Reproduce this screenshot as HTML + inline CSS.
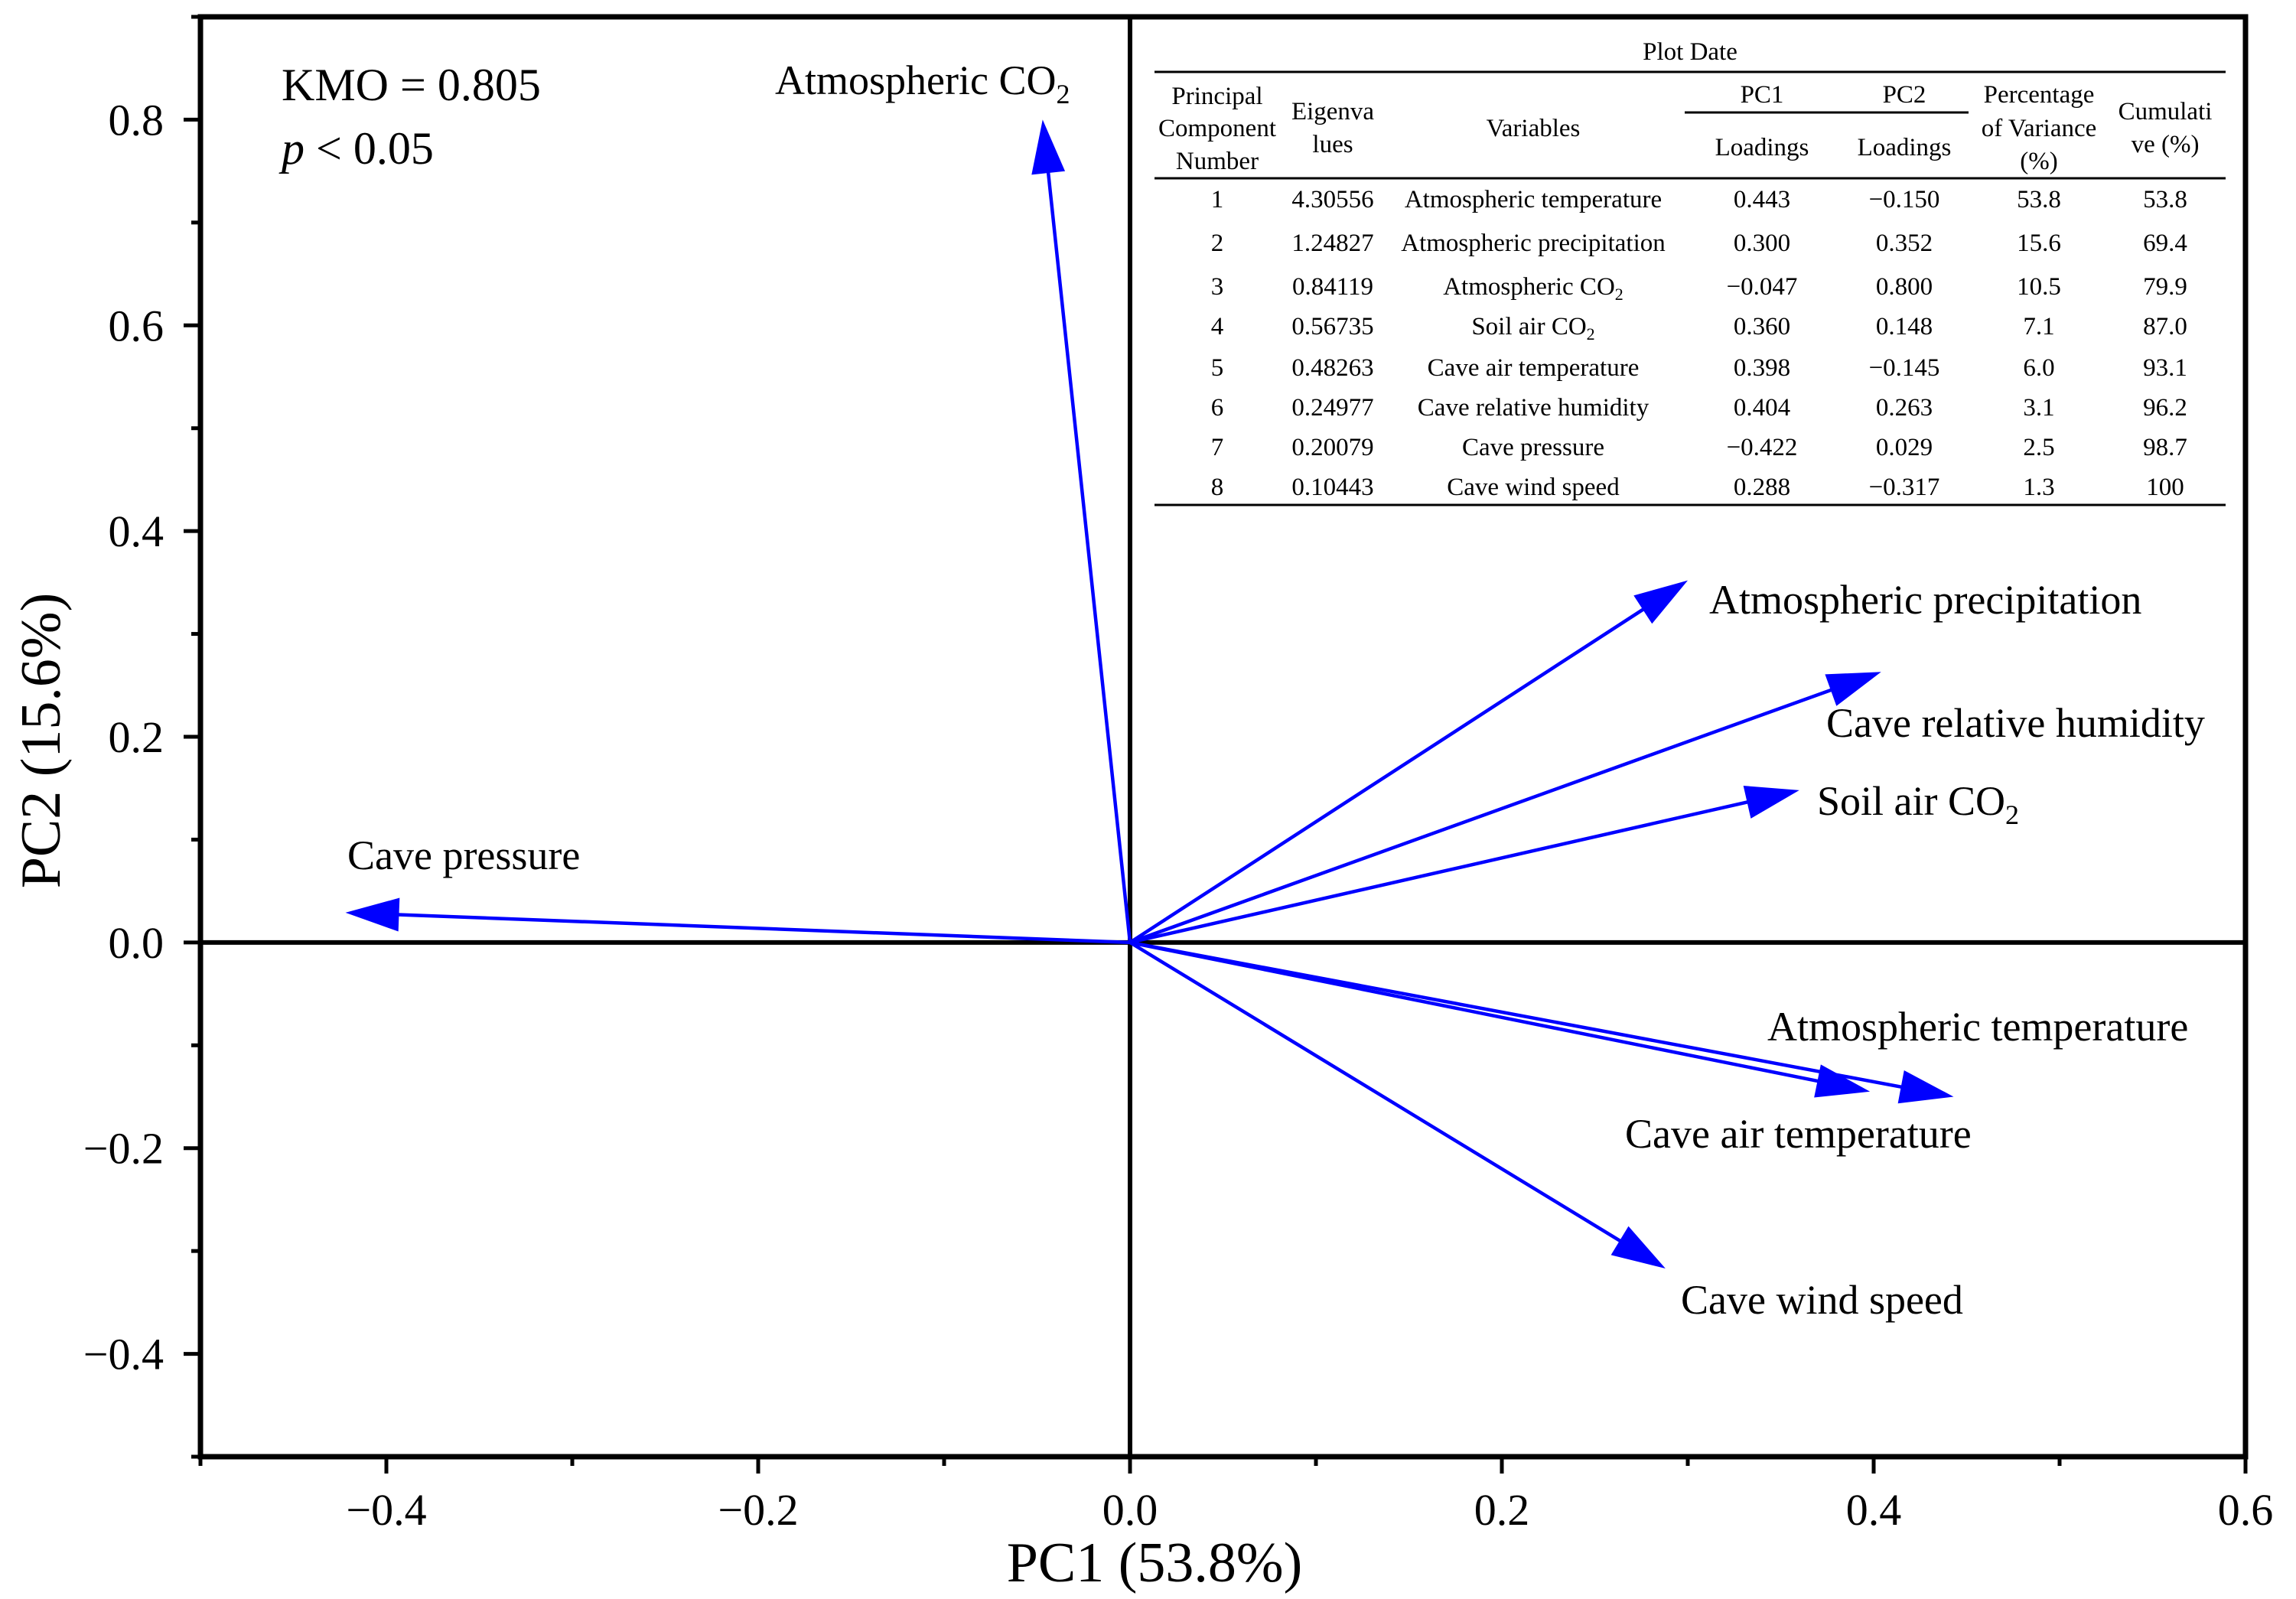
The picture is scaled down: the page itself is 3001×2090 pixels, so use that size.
<!DOCTYPE html>
<html><head><meta charset="utf-8"><style>
html,body{margin:0;padding:0;background:#fff;}
svg{display:block;font-family:"Liberation Serif","Times New Roman",Times,serif;}
</style></head><body>
<svg id="chart" width="3001" height="2090" viewBox="0 0 3001 2090" xmlns="http://www.w3.org/2000/svg" font-family="Liberation Serif, Times New Roman, serif">
<g id="table" font-size="33" text-anchor="middle" fill="#000"></g>
<g id="axes"></g>
<g id="arrows"></g>
<text x="368" y="131" font-size="60">KMO = 0.805</text>
<text x="368" y="214" font-size="60"><tspan font-style="italic">p</tspan> &lt; 0.05</text>
<text x="1509" y="2067" font-size="74" text-anchor="middle">PC1 (53.8%)</text>
<text x="0" y="0" font-size="74" text-anchor="middle" transform="translate(78,968) rotate(-90)">PC2 (15.6%)</text>
</svg>
<script>
const variables = ["Atmospheric temperature","Atmospheric precipitation","Atmospheric CO2","Soil air CO2","Cave air temperature","Cave relative humidity","Cave pressure","Cave wind speed"];
const pc1Loadings = [0.443,0.300,-0.047,0.360,0.398,0.404,-0.422,0.288];
const pc2Loadings = [-0.150,0.352,0.800,0.148,-0.145,0.263,0.029,-0.317];
const eigenvalues = ["4.30556","1.24827","0.84119","0.56735","0.48263","0.24977","0.20079","0.10443"];
const pctVariance = ["53.8","15.6","10.5","7.1","6.0","3.1","2.5","1.3"];
const cumulative = ["53.8","69.4","79.9","87.0","93.1","96.2","98.7","100"];
const xTicks = [-0.4,-0.2,0.0,0.2,0.4,0.6];
const yTicks = [-0.4,-0.2,0.0,0.2,0.4,0.6,0.8];
const xDomain = [-0.5,0.6], yDomain = [-0.5,0.9];

const NS="http://www.w3.org/2000/svg";
const L=262,R=2935,T=22,B=1904;
const sx=v=>L+(v-xDomain[0])/(xDomain[1]-xDomain[0])*(R-L);
const sy=v=>B-(v-yDomain[0])/(yDomain[1]-yDomain[0])*(B-T);
function mk(tag,attrs,parent,text){const e=document.createElementNS(NS,tag);for(const k in attrs)e.setAttribute(k,attrs[k]);if(text!==undefined)e.textContent=text;parent.appendChild(e);return e;}
const fmt=v=>(v<0?"\u2212":"")+Math.abs(v).toFixed(1);

const axes=document.getElementById('axes');
let e=mk('line',{x1:sx(0),x2:sx(0),y1:T,y2:B,stroke:'#000','stroke-width':6},axes);

e=mk('line',{x1:L,x2:R,y1:sy(0),y2:sy(0),stroke:'#000','stroke-width':6},axes);

e=mk('rect',{x:L,y:T,width:R-L,height:B-T,fill:'none',stroke:'#000','stroke-width':7},axes);

for(let i=0;i<=11;i++){const v=xDomain[0]+i*0.1;const major=i%2===1;
 e=mk('line',{x1:sx(v),x2:sx(v),y1:B,y2:B+(major?22:12),stroke:'#000','stroke-width':5},axes);
 }
xTicks.forEach(v=>{e=mk('text',{x:sx(v),y:1993,'font-size':58,'text-anchor':'middle'},axes,fmt(v));
 });
for(let i=0;i<=14;i++){const v=yDomain[0]+i*0.1;const major=i%2===1;
 e=mk('line',{x1:L-(major?22:12),x2:L,y1:sy(v),y2:sy(v),stroke:'#000','stroke-width':5},axes);
 }
yTicks.forEach(v=>{e=mk('text',{x:214,y:sy(v)+20,'font-size':58,'text-anchor':'end'},axes,fmt(v));
 });

const labelPos=[[2310,1342],[2234,784],[1013,105],[2375,1047],[2124,1482],[2387,945],[454,1118],[2197,1699]];
const arrows=document.getElementById('arrows');
variables.forEach((name,i)=>{
 const x0=sx(0),y0=sy(0),x1=sx(pc1Loadings[i]),y1=sy(pc2Loadings[i]);
 const dx=x1-x0,dy=y1-y0,len=Math.hypot(dx,dy),ux=dx/len,uy=dy/len;
 const hl=70,hw=22;const bx=x1-ux*hl,by=y1-uy*hl;
 e=mk('line',{x1:x0,y1:y0,x2:bx+ux*5,y2:by+uy*5,stroke:'#0000ff','stroke-width':4.5},arrows);
 
 e=mk('polygon',{points:`${x1},${y1} ${bx-uy*hw},${by+ux*hw} ${bx+uy*hw},${by-ux*hw}`,fill:'#0000ff'},arrows);
 
 const p=labelPos[i];
 const t=mk('text',{x:p[0],y:p[1]+18,'font-size':54},arrows);
 
 if(name.endsWith('CO2')){t.appendChild(document.createTextNode(name.slice(0,-1)));mk('tspan',{'font-size':36,dy:12},t,'2');}
 else t.textContent=name;
});

const tb=document.getElementById('table');
const TL=1509,TR=2909;
const cols=[1591,1742,2004,2303,2489,2665,2830];
e=mk('text',{x:2209,y:78},tb,'Plot Date');
[[94,TL,TR],[233,TL,TR],[660,TL,TR],[147,2202,2573]].forEach(r=>{e=mk('line',{x1:r[1],x2:r[2],y1:r[0],y2:r[0],stroke:'#000','stroke-width':3},tb);
 });
const hdr=[[0,125,'Principal'],[0,167,'Component'],[0,210,'Number'],[1,145,'Eigenva'],[1,188,'lues'],[2,167,'Variables'],[3,123,'PC1'],[4,123,'PC2'],[3,192,'Loadings'],[4,192,'Loadings'],[5,123,'Percentage'],[5,167,'of Variance'],[5,210,'(%)'],[6,145,'Cumulati'],[6,188,'ve (%)']];
hdr.forEach(h=>{e=mk('text',{x:cols[h[0]],y:h[1]+11},tb,h[2]);});
const rowY=[260,317,374,426,480,532,584,636];
variables.forEach((name,i)=>{
 const y=rowY[i]+11;
 const cells=[String(i+1),eigenvalues[i],name,(pc1Loadings[i]<0?'\u2212':'')+Math.abs(pc1Loadings[i]).toFixed(3),(pc2Loadings[i]<0?'\u2212':'')+Math.abs(pc2Loadings[i]).toFixed(3),pctVariance[i],cumulative[i]];
 cells.forEach((c,j)=>{const t=mk('text',{x:cols[j],y:y},tb);
  
  if(j===2&&c.endsWith('CO2')){t.appendChild(document.createTextNode(c.slice(0,-1)));mk('tspan',{'font-size':22,dy:7},t,'2');}
  else t.textContent=c;});
});
</script>
</body></html>
